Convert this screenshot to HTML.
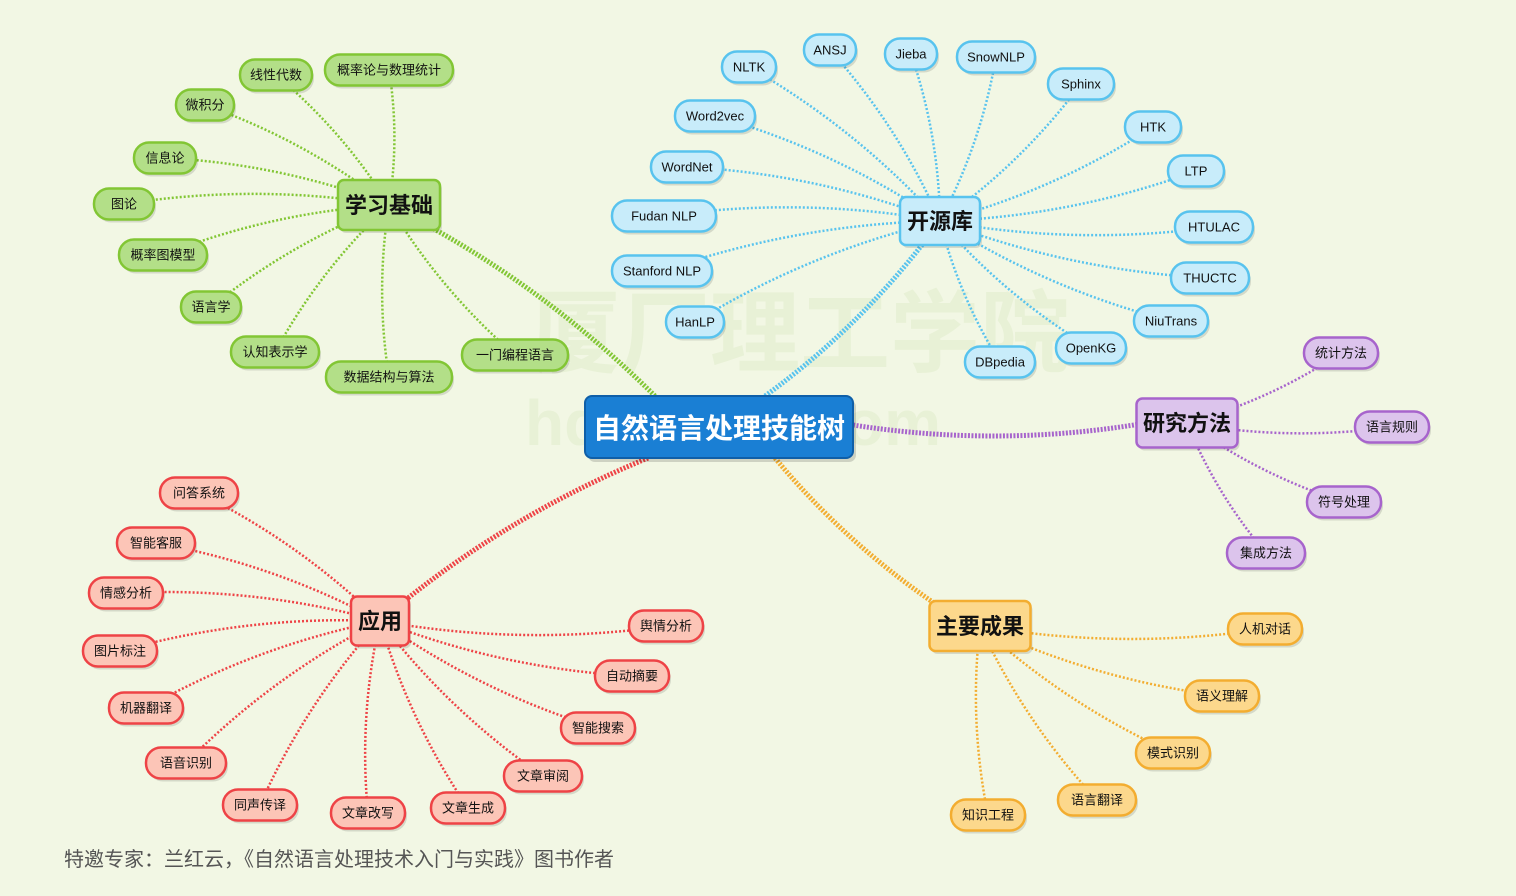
<!DOCTYPE html>
<html><head><meta charset="utf-8">
<style>
html,body{margin:0;padding:0;background:#f2f7e4;}
svg{display:block}
text{font-family:"Liberation Sans","Noto Sans CJK SC",sans-serif;}
</style></head>
<body>
<svg id="s" width="1516" height="896" viewBox="0 0 1516 896" xmlns="http://www.w3.org/2000/svg">
<rect width="1516" height="896" fill="#f2f7e4"/>
<g opacity="0.35" fill="#d7e6bf">
<text x="530" y="365" font-size="90" font-weight="bold">厦厂理工学院</text>
<text x="525" y="445" font-size="64" font-weight="bold">hdu         tech.com</text>
</g>
<g id="edges"></g>
<g id="nodes"></g>
<text x="64" y="866" font-size="20" fill="#555">特邀专家：兰红云，《自然语言处理技术入门与实践》图书作者</text>
</svg>
<script>
var E=document.getElementById('edges'),N=document.getElementById('nodes');
function el(p,t,a){var e=document.createElementNS('http://www.w3.org/2000/svg',t);for(var k in a)e.setAttribute(k,a[k]);p.appendChild(e);return e;}
var C={g:['#b3df88','#82c634'],b:['#c8ecfa','#58c3ee'],p:['#dcc4ec','#a764cc'],o:['#fcd88c','#f3ad30'],r:['#fcc5b7','#ee4346']};
function node(t,cx,cy,w,h,c,fs,bold,rx){
 var col=C[c];
 el(N,'rect',{x:cx-w/2+2,y:cy-h/2+3,width:w,height:h,rx:rx,fill:'#000',opacity:0.12});
 el(N,'rect',{x:cx-w/2,y:cy-h/2,width:w,height:h,rx:rx,fill:col[0],stroke:col[1],'stroke-width':2.5});
 var tx=el(N,'text',{x:cx,y:cy+fs*0.36,'font-size':fs,'text-anchor':'middle',fill:'#111','font-weight':bold?'bold':'normal'});tx.textContent=t;
}
function edge(x1,y1,x2,y2,c,w,d){
 var mx=(x1+x2)/2,my=(y1+y2)/2,dx=x2-x1,dy=y2-y1;
 var qx=mx-dy*0.08,qy=my+dx*0.08;
 el(E,'path',{d:'M'+x1+' '+y1+' Q'+qx+' '+qy+' '+x2+' '+y2,fill:'none',stroke:C[c][1],'stroke-width':w,'stroke-dasharray':d});
}
var groups=[
 ['g',389,205,102,50,'学习基础',[['线性代数',276,75,72],['概率论与数理统计',389,70,128],['微积分',205,105,58],['信息论',165,158,62],['图论',124,204,60],['概率图模型',163,255,88],['语言学',211,307,60],['认知表示学',275,352,88],['数据结构与算法',389,377,126],['一门编程语言',515,355,106]]],
 ['b',940,221,80,48,'开源库',[['NLTK',749,67,54],['ANSJ',830,50,52],['Jieba',911,54,52],['SnowNLP',996,57,78],['Sphinx',1081,84,66],['HTK',1153,127,56],['LTP',1196,171,56],['HTULAC',1214,227,78],['THUCTC',1210,278,78],['NiuTrans',1171,321,74],['OpenKG',1091,348,70],['DBpedia',1000,362,70],['HanLP',695,322,58],['Stanford NLP',662,271,100],['Fudan NLP',664,216,104],['WordNet',687,167,72],['Word2vec',715,116,80]]],
 ['p',1187,423,101,49,'研究方法',[['统计方法',1341,353,74],['语言规则',1392,427,74],['符号处理',1344,502,74],['集成方法',1266,553,78]]],
 ['o',980,626,101,50,'主要成果',[['人机对话',1265,629,74],['语义理解',1222,696,74],['模式识别',1173,753,74],['语言翻译',1097,800,78],['知识工程',988,815,74]]],
 ['r',380,621,58,49,'应用',[['问答系统',199,493,78],['智能客服',156,543,78],['情感分析',126,593,74],['图片标注',120,651,74],['机器翻译',146,708,74],['语音识别',186,763,80],['同声传译',260,805,74],['文章改写',368,813,74],['文章生成',468,808,74],['文章审阅',543,776,78],['智能搜索',598,728,74],['自动摘要',632,676,74],['舆情分析',666,626,74]]]
];
edge(655,396,389,205,'g',5,'2 1.5');
edge(765,396,940,221,'b',5,'2 1.5');
edge(853,425,1140,424,'p',5,'2 1.5');
edge(775,458,960,620,'o',5,'2 1.5');
edge(648,458,380,621,'r',5,'2 1.5');
groups.forEach(function(g){
 g[6].forEach(function(l){edge(g[1],g[2],l[1],l[2],g[0],2.5,'2 2');});
});
groups.forEach(function(g){
 g[6].forEach(function(l){node(l[0],l[1],l[2],l[3],31,g[0],13,false,15);});
 node(g[5],g[1],g[2],g[3],g[4],g[0],22,true,6);
});
el(N,'rect',{x:588,y:400,width:268,height:62,rx:7,fill:'#000',opacity:0.15});
el(N,'rect',{x:585,y:396,width:268,height:62,rx:7,fill:'#1a7fd4',stroke:'#0f5fa8','stroke-width':2});
var t=el(N,'text',{x:719,y:438,'font-size':28,'font-weight':'bold','text-anchor':'middle',fill:'#fff'});t.textContent='自然语言处理技能树';
</script>
</body></html>
